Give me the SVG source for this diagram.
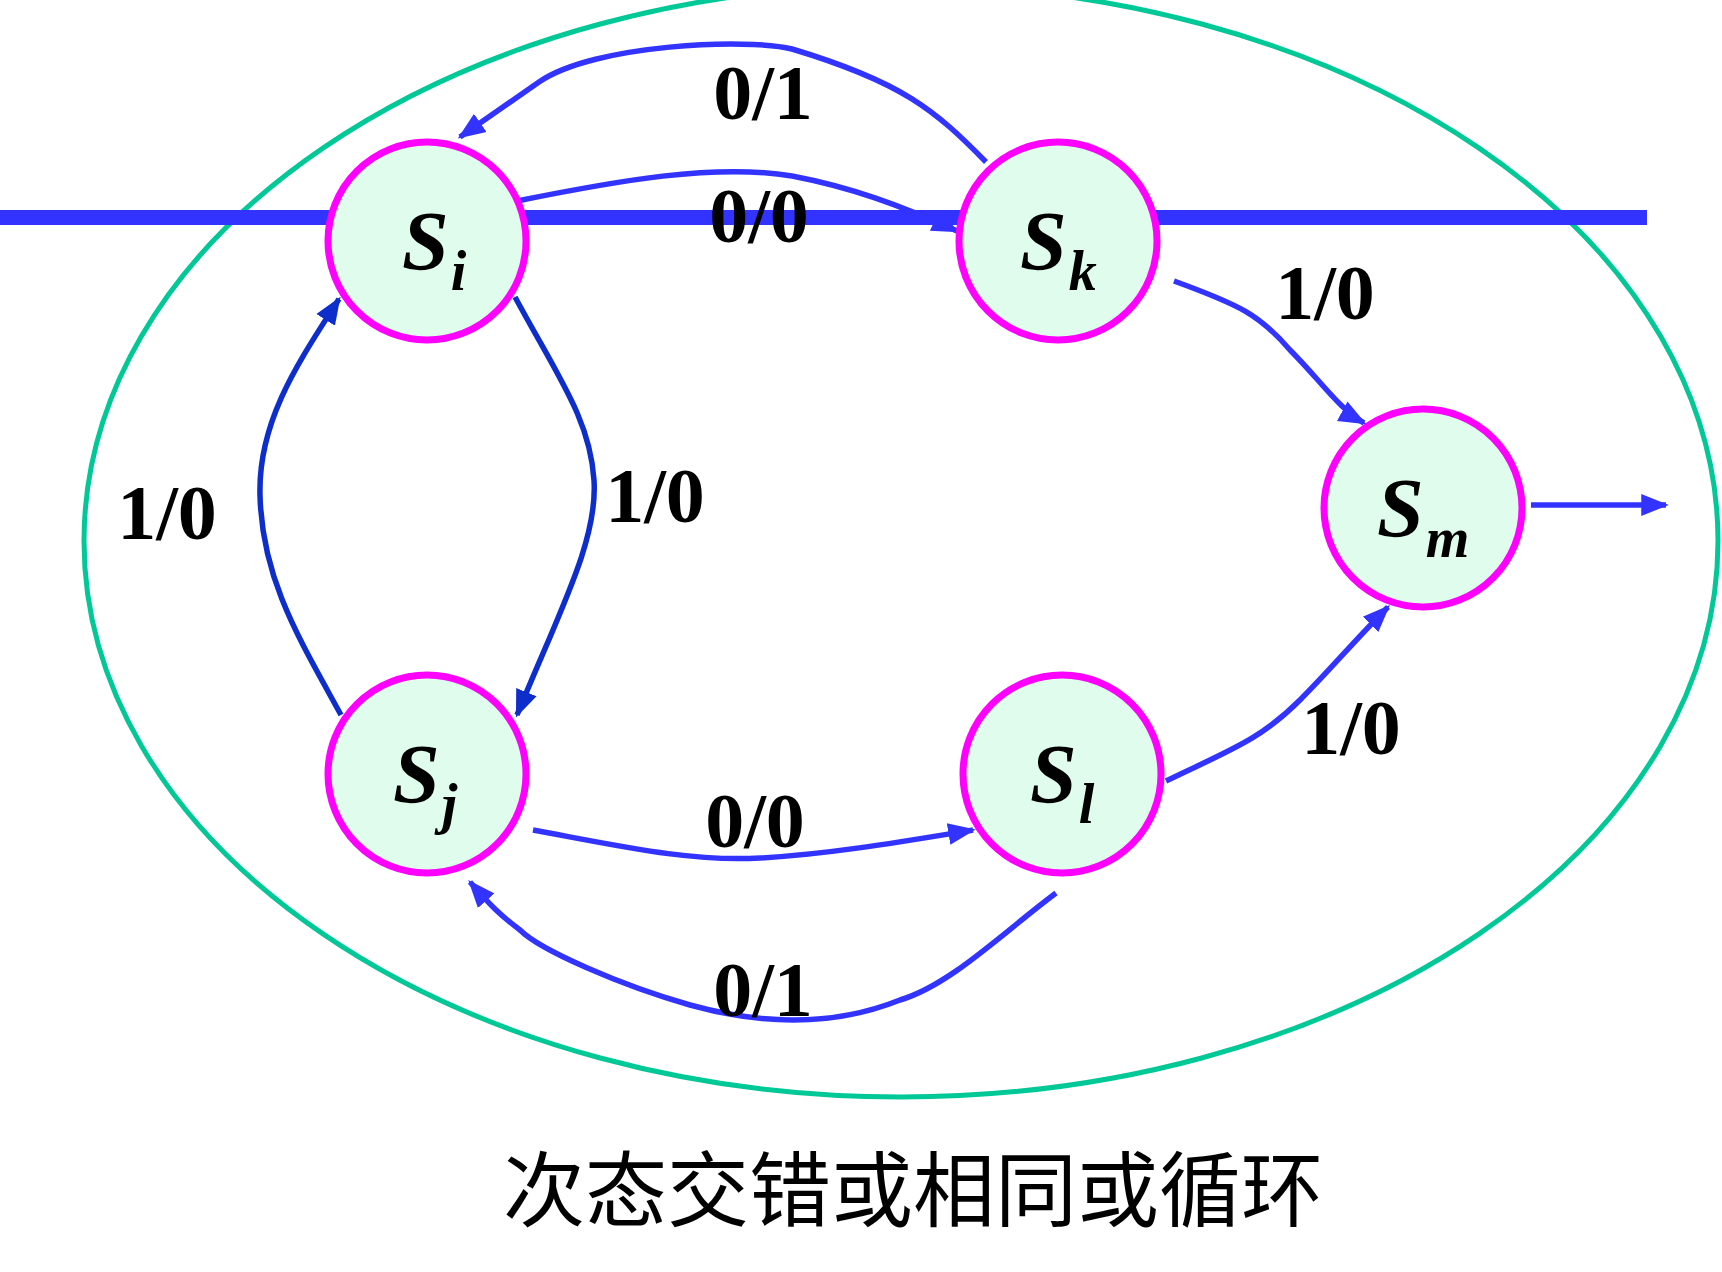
<svg xmlns="http://www.w3.org/2000/svg" width="1722" height="1272" viewBox="0 0 1722 1272">
<style>
.n{fill:#E0FCEC;stroke:#FF00FF;stroke-width:7}
.c{fill:none;stroke:#3333FF;stroke-width:5.5}
.d{stroke:#0E2ECC}
.l{font-family:"Liberation Serif",serif;font-weight:bold;font-size:78px;fill:#000;text-anchor:middle}
.s{font-family:"Liberation Serif",serif;font-weight:bold;font-style:italic;font-size:84px;fill:#000}
.b{font-size:56px}
</style>
<defs>
<marker id="a" viewBox="0 0 10 10" refX="9" refY="5" markerWidth="5" markerHeight="5" orient="auto" markerUnits="strokeWidth"><path d="M0,1 L10,5 L0,9 Z" fill="#3333FF"/></marker>
<marker id="ad" viewBox="0 0 10 10" refX="9" refY="5" markerWidth="5" markerHeight="5" orient="auto" markerUnits="strokeWidth"><path d="M0,1 L10,5 L0,9 Z" fill="#0E2ECC"/></marker>
</defs>
<rect width="1722" height="1272" fill="#fff"/>
<ellipse cx="901" cy="541" rx="817" ry="556" fill="none" stroke="#00C896" stroke-width="5"/>
<rect x="0" y="210" width="1647" height="15" fill="#3333FF"/>
<g id="connectors">
<path class="c" marker-end="url(#a)" d="M986,162 C935,110 902,82 792,49 C748,38 594,44 539,82 L460,137"/>
<path class="c" marker-end="url(#a)" d="M517,201 C616,181 715,163 792,176 C850,187 900,205 957,231"/>
<path class="c d" marker-end="url(#ad)" d="M515,297 C560,380 590,420 594,480 C598,540 560,610 517,715"/>
<path class="c d" marker-end="url(#ad)" d="M341,715 C300,640 262,580 260,495 C258,420 300,360 339,299"/>
<path class="c" marker-end="url(#a)" d="M1174,281 C1240,305 1260,315 1290,350 C1320,380 1340,410 1364,423"/>
<path class="c" marker-end="url(#a)" d="M1166,781 C1230,750 1260,740 1300,700 C1330,670 1355,640 1388,607"/>
<path class="c" marker-end="url(#a)" d="M533,830 C620,846 690,862 760,858 C830,854 900,842 973,830"/>
<path class="c" marker-end="url(#a)" d="M1056,893 C1000,935 950,985 900,1000 C850,1020 780,1030 690,1005 C620,985 540,950 520,930 C500,915 490,905 470,882"/>
<path class="c" marker-end="url(#a)" d="M1531,505 L1666,505"/>
</g>
<g id="Si"><circle class="n" cx="427" cy="241" r="99"/><text class="s" x="402" y="270">S<tspan class="b" dx="2" dy="20">i</tspan></text></g>
<g id="Sk"><circle class="n" cx="1058" cy="241" r="99"/><text class="s" x="1020" y="270">S<tspan class="b" dx="2" dy="20">k</tspan></text></g>
<g id="Sm"><circle class="n" cx="1423" cy="508" r="99"/><text class="s" x="1377" y="537">S<tspan class="b" dx="2" dy="20">m</tspan></text></g>
<g id="Sj"><circle class="n" cx="427" cy="774" r="99"/><text class="s" x="393" y="803">S<tspan class="b" dx="2" dy="20">j</tspan></text></g>
<g id="Sl"><circle class="n" cx="1062" cy="774" r="99"/><text class="s" x="1030" y="803">S<tspan class="b" dx="2" dy="20">l</tspan></text></g>
<g id="labels">
<text class="l" x="763" y="119">0/1</text>
<text class="l" x="759" y="242">0/0</text>
<text class="l" x="1325" y="319">1/0</text>
<text class="l" x="167" y="539">1/0</text>
<text class="l" x="655" y="522">1/0</text>
<text class="l" x="1351" y="754">1/0</text>
<text class="l" x="755" y="847">0/0</text>
<text class="l" x="763" y="1016">0/1</text>
</g>
<text x="913" y="1220" font-family="'Noto Sans CJK SC',sans-serif" font-size="82" text-anchor="middle" fill="#000">次态交错或相同或循环</text>
</svg>
